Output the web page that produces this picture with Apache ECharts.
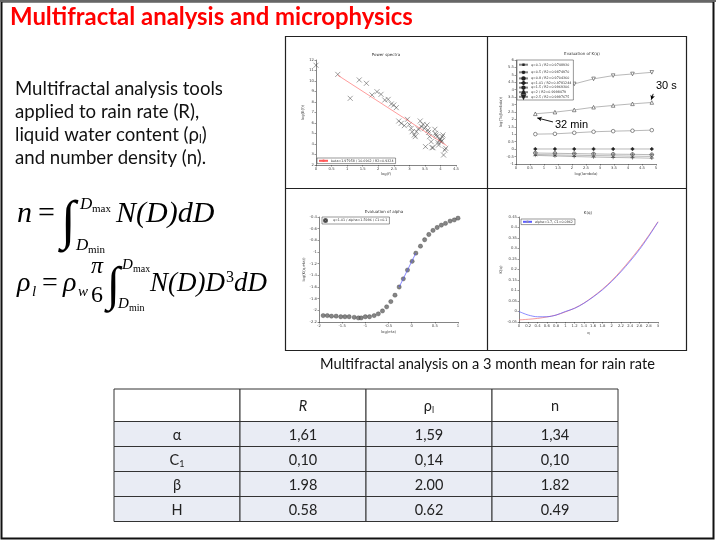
<!DOCTYPE html>
<html><head><meta charset="utf-8">
<script src="https://cdn.jsdelivr.net/npm/echarts@6/dist/echarts.min.js"></script>
<style>html,body{margin:0;padding:0;background:#fff}#c{width:716px;height:541px}</style>
</head><body><div id="c"></div>
<script>
// ---------------- data ----------------
const slideTitle = 'Multifractal analysis and microphysics';
const introLines = ['Multifractal analysis tools', 'applied to rain rate (R),', 'liquid water content (ρ|l|)', 'and number density (n).'];
const captionText = 'Multifractal analysis on a 3 month mean for rain rate';

// panel 1 : power spectra
const psTitle = 'Power spectra';
const psX = [0.00,0.70,1.10,1.39,1.62,1.80,1.96,2.09,2.21,2.32,2.42,2.50,2.58,2.66,2.74,2.84,2.94,3.00,3.06,3.09,3.16,3.19,3.23,3.29,3.35,3.39,3.44,3.49,3.52,3.57,3.60,3.62,3.65,3.70,3.73,3.76,3.82,3.84,3.86,3.89,3.92,3.94,3.98,4.00,4.02,4.04,4.06,4.08,4.10,4.14,4.17];
const psY = [11.50,10.63,8.35,10.10,9.78,8.67,8.98,8.73,8.19,8.25,7.81,7.71,7.46,6.19,5.97,5.75,6.35,5.87,5.49,5.17,4.86,4.70,5.17,5.43,6.19,5.65,5.87,5.49,3.75,5.81,5.33,5.11,4.70,4.22,3.65,3.65,5.40,5.02,4.86,4.70,4.13,3.90,4.38,4.48,4.22,4.29,4.70,4.86,2.95,3.43,3.59];
const psFitX = [0.70, 4.20];
const psFitY = [10.55, 3.85];
const psFitName = 'beta=1.97958 / 10.6962 / R2=0.9324';

// panel 2 : evaluation of K(q)
const kqTitle = 'Evaluation of K(q)';
const kqLogLambda = [0.69, 1.39, 2.08, 2.77, 3.47, 4.16, 4.85];
const kqNames = ['q=0.1 / R2=0.9748930','q=0.5 / R2=0.9874970','q=0.8 / R2=0.9704360','q=1.01 / R2=0.9781244','q=1.5 / R2=0.9969306','q=2 / R2=0.9998479','q=2.5 / R2=0.9997675'];
const kqQ01 = [-0.42,-0.46,-0.50,-0.53,-0.56,-0.58,-0.61];
const kqQ05 = [-0.36,-0.39,-0.41,-0.43,-0.45,-0.47,-0.49];
const kqQ08 = [-0.26,-0.28,-0.30,-0.32,-0.34,-0.35,-0.37];
const kqQ101 = [0.01,0.01,0.01,0.01,0.01,0.01,0.01];
const kqQ15 = [1.01,1.03,1.10,1.17,1.21,1.24,1.28];
const kqQ2 = [2.38,2.49,2.64,2.82,2.94,3.05,3.14];
const kqQ25 = [4.00,4.20,4.39,4.73,4.95,5.06,5.17];
const kqNote30s = '30 s';
const kqNote32min = '32 min';

// panel 3 : evaluation of alpha
const alTitle = 'Evaluation of alpha';
const alX = [-1.91,-1.82,-1.73,-1.63,-1.53,-1.44,-1.35,-1.24,-1.15,-1.09,-1.00,-0.91,-0.81,-0.72,-0.63,-0.54,-0.45,-0.36,-0.27,-0.18,-0.09,0.01,0.09,0.19,0.28,0.37,0.46,0.55,0.64,0.73,0.83,0.92,1.00];
const alY = [-2.09,-2.09,-2.10,-2.10,-2.11,-2.11,-2.11,-2.12,-2.13,-2.13,-2.11,-2.11,-2.09,-2.06,-2.01,-1.94,-1.85,-1.74,-1.60,-1.46,-1.31,-1.16,-1.02,-0.90,-0.79,-0.70,-0.63,-0.58,-0.54,-0.51,-0.47,-0.45,-0.42];
const alFitX = [-0.27, 0.09];
const alFitY = [-1.60, -1.02];
const alName = 'q=1.01 / alpha=1.5996 / C1=0.1';

// panel 4 : K(q)
const kTitle = 'K(q)';
const kQ = [0,0.2,0.4,0.6,0.8,1.0,1.2,1.4,1.6,1.8,2.0,2.2,2.4,2.6,2.8,3.0];
const kEmp = [-0.040,-0.037,-0.033,-0.026,-0.017,-0.002,0.016,0.040,0.071,0.106,0.147,0.194,0.246,0.301,0.362,0.428];
const kFit = [0.000,-0.017,-0.025,-0.025,-0.017,0.000,0.015,0.039,0.069,0.103,0.143,0.189,0.240,0.295,0.358,0.426];
const kFitName = 'alpha=1.7, C1=0.0962';

// table
const tableHeader = ['', 'R', 'ρ|l|', 'n'];
const tableRowLabels = ['α', 'C|1|', 'β', 'H'];
const tableR = ['1,61', '0,10', '1.98', '0.58'];
const tableRho = ['1,59', '0,14', '2.00', '0.62'];
const tableN = ['1,34', '0,10', '1.82', '0.49'];

// ---------------- helpers ----------------
const zip = (a, b) => a.map((v, i) => [v, b[i]]);
const cv = document.createElement('canvas').getContext('2d');
function measure(text, font) { cv.font = font; return cv.measureText(text).width; }
function fitSize(text, tpl, target) { return 100 * target / measure(text, tpl.replace('{s}', 100)); }
const SANS = 'Lato, "Open Sans", "Noto Sans", sans-serif';
const SERIF = '"Liberation Serif", "DejaVu Serif", serif';

function txt(text, x, y, font, o) {
  o = o || {};
  const st = {text: text, x: x, y: y, font: font, fill: o.color || '#000',
    align: o.align || 'left', textAlign: o.align || 'left',
    verticalAlign: o.va || 'middle', textVerticalAlign: o.va || 'middle'};
  if (o.rich) st.rich = o.rich;
  return {type: 'text', silent: true, z: 50, style: st};
}
// convert "a|b|c" -> rich with subscript for the part between bars
function subRich(s, mainFont, subFont, pad) {
  const parts = s.split('|');
  if (parts.length === 1) return {text: s, rich: null};
  let t = '';
  parts.forEach((p, i) => { if (p) t += (i % 2 ? '{s|' : '{a|') + p + '}'; });
  return {text: t, rich: {a: {font: mainFont}, s: {font: subFont, padding: [pad, 0, 0, 0]}}};
}

const g = [];
// slide border
g.push({type: 'rect', silent: true, shape: {x: 1.5, y: 1.5, width: 712, height: 537}, style: {fill: 'none', stroke: '#111', lineWidth: 2}});
g.push({type: 'line', silent: true, shape: {x1: 0, y1: 1, x2: 716, y2: 1}, style: {stroke: '#666', lineWidth: 2}});

// title
const tSize = fitSize(slideTitle, 'bold {s}px ' + SANS, 403);
g.push(txt(slideTitle, 10, 17, 'bold ' + tSize + 'px ' + SANS, {color: '#ff0000'}));

// intro paragraph
const pSize = fitSize(introLines[0], '{s}px ' + SANS, 208);
const pFont = pSize + 'px ' + SANS;
introLines.forEach((l, i) => {
  const r = subRich(l, pFont, (pSize * 0.62) + 'px ' + SANS, 9);
  g.push(txt(r.text, 15, 89 + i * 23, pFont, {color: '#111', rich: r.rich}));
});

// formulas
function mt(text, x, baseline, size, style, o) {
  const font = (style || '') + ' ' + size + 'px ' + SERIF;
  g.push(txt(text, x, baseline - 0.3 * size, font, o));
  return x + measure(text, font);
}
// n = ∫ N(D)dD
mt('n', 17, 223, 30, 'italic');
mt('=', 38, 223, 30, '');
g.push(txt('∫', 61, 224, '54px ' + SERIF, {}));
mt('D', 80, 210, 17, 'italic'); mt('max', 92, 212, 11, '');
mt('D', 76, 251, 17, 'italic'); mt('min', 88, 253, 11, '');
mt('N(D)dD', 116, 223, 30, 'italic');
// rho_l = rho_w pi/6 ∫ N(D)D^3 dD
const b2 = 292;
mt('ρ', 17, b2, 28, 'italic'); mt('l', 32, b2 + 5, 15, 'italic');
mt('=', 42, b2, 28, '');
mt('ρ', 63, b2, 28, 'italic'); mt('w', 78, b2 + 5, 15, 'italic');
mt('π', 97, b2 - 18, 24, 'italic', {align: 'center'});
mt('6', 97, b2 + 11, 24, '', {align: 'center'});
g.push(txt('∫', 107, b2 - 5, '48px ' + SERIF, {}));
mt('D', 122, b2 - 22, 15, 'italic'); mt('max', 133, b2 - 20, 10, '');
mt('D', 118, b2 + 17, 15, 'italic'); mt('min', 129, b2 + 19, 10, '');
let fx = mt('N(D)D', 150, b2, 27, 'italic');
fx = mt('3', fx + 1, b2 - 9, 16, '');
mt('dD', fx, b2, 27, 'italic');

// panel frame
g.push({type: 'rect', silent: true, shape: {x: 285.5, y: 36.5, width: 401, height: 314}, style: {fill: 'none', stroke: '#222', lineWidth: 1.2}});
g.push({type: 'line', silent: true, shape: {x1: 487.5, y1: 36.5, x2: 487.5, y2: 350.5}, style: {stroke: '#222', lineWidth: 1.2}});
g.push({type: 'line', silent: true, shape: {x1: 285.5, y1: 188.5, x2: 686.5, y2: 188.5}, style: {stroke: '#222', lineWidth: 1.2}});

// small panel titles
const smallFont = '4px "DejaVu Sans", sans-serif';
g.push(txt(psTitle, 386, 55, smallFont, {align: 'center', color: '#333'}));
g.push(txt(kqTitle, 582, 54, smallFont, {align: 'center', color: '#333'}));
g.push(txt(alTitle, 384, 212, smallFont, {align: 'center', color: '#333'}));
g.push(txt(kTitle, 588, 213, smallFont, {align: 'center', color: '#333'}));
// annotations
g.push(txt(kqNote30s, 656, 86, '11px "Liberation Sans", Arial, sans-serif', {color: '#000'}));
g.push(txt(kqNote32min, 555, 125, '11px "Liberation Sans", Arial, sans-serif', {color: '#000'}));

// caption
const cSize = fitSize(captionText, '{s}px ' + SANS, 335);
g.push(txt(captionText, 487.5, 364, cSize + 'px ' + SANS, {align: 'center', color: '#111'}));

// table
const tbL = 114, tbT = 389, colW = 126, headH = 32.5, rowH = 25;
const tFont = '14.5px ' + SANS;
const tSub = '9px ' + SANS;
const cols = [tableRowLabels, tableR, tableRho, tableN];
for (let r = 0; r < 5; r++) {
  const y = r === 0 ? tbT : tbT + headH + (r - 1) * rowH;
  const h = r === 0 ? headH : rowH;
  for (let c = 0; c < 4; c++) {
    g.push({type: 'rect', silent: true, z: 10, shape: {x: tbL + c * colW, y: y, width: colW, height: h},
      style: {fill: r === 0 ? '#ffffff' : '#e9ecf4', stroke: '#333', lineWidth: 1}});
    const s = r === 0 ? tableHeader[c] : cols[c][r - 1];
    if (!s) continue;
    const font = (r === 0 && c === 1) ? 'italic ' + tFont : tFont;
    const rr = subRich(s, font, tSub, 8);
    g.push(txt(rr.text, tbL + c * colW + colW / 2, y + h / 2 + 1, font, {align: 'center', color: '#222', rich: rr.rich}));
  }
}

// ---------------- chart ----------------
function axis(gi, o) {
  return Object.assign({
    type: 'value', gridIndex: gi, nameLocation: 'middle',
    axisLine: {show: true, onZero: false, lineStyle: {color: '#333', width: 0.6}},
    axisTick: {show: true, length: 1.5, lineStyle: {color: '#333', width: 0.5}},
    axisLabel: {fontSize: 3.8, color: '#444', margin: 2, fontFamily: 'DejaVu Sans'},
    splitLine: {show: false},
    nameTextStyle: {fontSize: 3.8, color: '#444', fontFamily: 'DejaVu Sans'}
  }, o);
}
function legend(names, left, top, orient) {
  return {data: names, left: left, top: top, orient: orient || 'horizontal', selectedMode: false,
    itemWidth: 9, itemHeight: 3, itemGap: 0.2, padding: [1, 2, 1, 1],
    borderColor: '#333', borderWidth: 0.5, backgroundColor: '#fff', z: 20,
    textStyle: {fontSize: 3.3, lineHeight: 3.6, color: '#333', fontFamily: 'DejaVu Sans', padding: [0, 0, 0, -2]}};
}
const SYM = {
  cross: 'path://M0,0L10,10M10,0L0,10',
  plus: 'path://M5,0L5,10M0,5L10,5',
  circPlus: 'path://M5,0A5,5,0,1,1,4.99,0ZM5,0L5,10M0,5L10,5',
  tri: 'path://M5,0L10,10L0,10Z',
  triDown: 'path://M0,0L10,0L5,10Z'
};
const kqSeriesData = [kqQ01, kqQ05, kqQ08, kqQ101, kqQ15, kqQ2, kqQ25];
const kqSymbols = [SYM.plus, SYM.cross, SYM.circPlus, 'diamond', 'circle', SYM.tri, SYM.triDown];
const kqFill = ['none', 'none', '#fff', '#222', '#fff', '#fff', '#fff'];

const series = [
  {type: 'scatter', name: 'spectrum', xAxisIndex: 0, yAxisIndex: 0, data: zip(psX, psY),
    symbol: SYM.cross, symbolSize: 5, itemStyle: {color: 'rgba(0,0,0,0)', borderColor: '#333', borderWidth: 0.6}},
  {type: 'line', name: psFitName, xAxisIndex: 0, yAxisIndex: 0, data: zip(psFitX, psFitY), symbol: 'none',
    lineStyle: {color: '#ff5a5a', width: 0.6}, itemStyle: {color: '#ff5a5a'}}
];
kqSeriesData.forEach((d, i) => {
  const s = {type: 'line', name: kqNames[i], xAxisIndex: 1, yAxisIndex: 1, data: zip(kqLogLambda, d),
    symbol: kqSymbols[i], symbolSize: 3.6,
    lineStyle: {color: '#888', width: 0.6},
    itemStyle: {color: kqFill[i], borderColor: '#222', borderWidth: 0.5}};
  if (i === 5) {
    s.markLine = {silent: true, symbol: ['none', 'arrow'], symbolSize: [3.5, 4.5], label: {show: false},
      lineStyle: {color: '#000', width: 0.9, type: 'solid'},
      data: [[{coord: [4.90, 3.72]}, {coord: [4.83, 3.33]}], [{coord: [1.32, 1.83]}, {coord: [0.76, 2.10]}]]};
  }
  series.push(s);
});
series.push(
  {type: 'scatter', name: alName, xAxisIndex: 2, yAxisIndex: 2, data: zip(alX, alY),
    symbol: 'circle', symbolSize: 4.3, itemStyle: {color: '#666', borderColor: '#333', borderWidth: 0.4}},
  {type: 'line', name: 'alphaFit', xAxisIndex: 2, yAxisIndex: 2, data: zip(alFitX, alFitY), symbol: 'none',
    lineStyle: {color: '#5555ff', width: 0.7}},
  {type: 'line', name: 'K(q) empirical', xAxisIndex: 3, yAxisIndex: 3, data: zip(kQ, kEmp), symbol: 'none', smooth: 0.3,
    lineStyle: {color: '#f07070', width: 0.7}},
  {type: 'line', name: kFitName, xAxisIndex: 3, yAxisIndex: 3, data: zip(kQ, kFit), symbol: 'none', smooth: 0.3,
    lineStyle: {color: '#5a5aff', width: 0.7}, itemStyle: {color: '#8a8ab8'}}
);

const option = {
  animation: false,
  backgroundColor: '#fff',
  grid: [
    {left: 316, top: 60, width: 140, height: 105},
    {left: 516, top: 60, width: 140, height: 104},
    {left: 319, top: 217, width: 139, height: 105},
    {left: 519, top: 217, width: 139, height: 105}
  ],
  xAxis: [
    axis(0, {min: 0, max: 4.5, interval: 0.5, name: 'log(f)', nameGap: 7}),
    axis(1, {min: 0, max: 5, interval: 0.5, name: 'log(lambda)', nameGap: 8}),
    axis(2, {min: -2, max: 1, interval: 0.5, name: 'log(eta)', nameGap: 8}),
    axis(3, {min: 0, max: 3, interval: 0.2, name: 'q', nameGap: 9})
  ],
  yAxis: [
    axis(0, {min: 2, max: 12, interval: 1, name: 'log(E(f))', nameGap: 9}),
    axis(1, {min: -1, max: 6, interval: 0.5, name: 'log(Tq(lambda))', nameGap: 10}),
    axis(2, {min: -2.2, max: -0.4, interval: 0.2, name: 'log(K(q,eta))', nameGap: 11}),
    axis(3, {min: -0.05, max: 0.45, interval: 0.05, name: 'K(q)', nameGap: 12})
  ],
  legend: [
    legend([psFitName], 317, 158),
    legend(kqNames, 517, 60, 'vertical'),
    legend([alName], 322, 217),
    legend([kFitName], 521, 219)
  ],
  series: series,
  graphic: {elements: g}
};
const chart = echarts.init(document.getElementById('c'), null, {renderer: 'canvas', width: 716, height: 541});
chart.setOption(option);
</script></body></html>
